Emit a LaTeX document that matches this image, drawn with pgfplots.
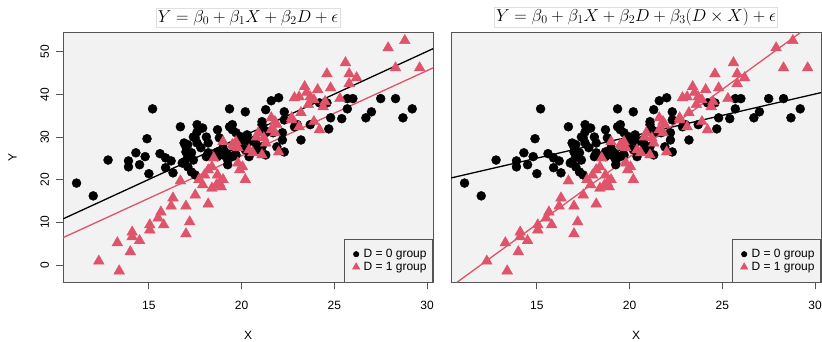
\documentclass[border=0pt]{standalone}
\usepackage{fontspec}
\setmainfont{Liberation Sans}
\usepackage{pgfplots}
\usepackage{pgfplotstable}
\pgfplotsset{compat=1.18}
\definecolor{rred}{HTML}{DF536B}
\definecolor{panelbg}{HTML}{F2F2F2}
\definecolor{frame}{HTML}{555555}

\pgfplotstableread{
x y
11.1 19.2
12.0 16.2
12.8 24.6
13.9 24.4
13.9 23.0
14.3 26.3
14.5 23.5
14.8 25.4
14.9 29.6
15.0 21.4
15.2 36.6
15.6 26.1
15.9 25.1
15.9 22.8
16.2 24.4
16.3 21.6
16.7 32.4
16.8 23.9
16.9 28.6
16.9 24.2
17.0 27.7
17.0 26.5
17.1 28.2
17.1 25.4
17.1 23.0
17.3 26.3
17.3 21.8
17.4 30.0
17.4 24.6
17.5 29.8
17.5 21.1
17.6 32.9
17.6 31.2
17.6 28.6
17.8 27.5
17.9 32.1
18.1 30.0
18.1 25.4
18.2 28.6
18.2 26.3
18.7 31.7
18.7 26.5
18.7 25.4
18.8 29.8
19.0 27.5
19.0 25.8
19.2 26.3
19.25 24.6
19.25 23.5
19.35 36.6
19.35 32.4
19.5 32.9
19.5 31.7
19.5 25.4
19.6 27.5
19.7 31.0
19.7 25.8
19.9 29.3
20.0 30.0
20.0 28.6
20.2 35.9
20.2 29.8
20.2 27.0
20.3 30.5
20.4 28.9
20.4 25.4
20.7 29.3
20.8 28.2
20.8 27.0
21.1 33.6
21.1 32.9
21.1 27.7
21.2 31.7
21.3 36.4
21.3 25.8
21.4 31.2
21.6 38.5
21.7 31.0
21.9 27.7
22.0 39.2
22.2 31.0
22.2 29.3
22.3 35.9
22.3 34.0
22.3 26.5
22.85 32.4
23.0 32.9
23.2 29.3
23.7 32.9
24.2 38.0
24.6 38.0
24.7 31.9
24.8 34.5
25.4 34.3
25.7 39.0
25.7 36.6
26.0 39.0
26.7 34.5
27.0 35.9
27.5 39.0
28.3 39.0
28.7 34.5
29.2 36.6
}\grpzero

\pgfplotstableread{
x y
12.3 0.9
13.4 -1.4
13.3 5.2
14.0 3.1
14.1 7.7
14.1 6.6
14.5 5.7
15.05 9.4
15.05 8.2
15.5 11.0
15.65 12.4
15.8 9.4
16.2 13.8
16.3 15.7
16.7 19.7
17.0 7.3
17.0 13.8
17.2 10.1
17.5 16.4
17.7 20.0
17.9 18.8
18.0 21.1
18.2 14.3
18.2 22.3
18.4 18.0
18.4 23.0
18.5 25.1
18.65 18.8
18.7 21.1
18.8 19.2
18.9 18.3
19.0 20.0
19.0 28.9
19.5 28.2
19.6 27.7
19.7 28.9
19.8 27.5
19.8 23.9
19.9 22.3
20.05 23.0
20.2 20.0
20.4 27.0
20.6 26.3
20.8 30.0
20.9 31.0
21.1 25.8
21.2 29.8
21.3 28.6
21.6 31.7
21.6 34.5
21.8 31.0
21.8 33.6
21.9 32.9
22.0 26.5
22.7 34.0
22.7 34.5
22.85 39.2
23.1 39.4
23.1 32.4
23.2 35.7
23.4 41.8
23.5 40.4
23.6 37.6
23.7 39.4
23.9 38.7
23.9 33.6
24.1 41.1
24.2 31.7
24.4 37.1
24.5 38.3
24.6 44.8
24.8 41.5
25.3 39.0
25.6 47.4
25.8 44.8
25.8 42.5
26.2 43.9
27.9 50.9
28.3 46.2
28.8 52.6
29.6 46.2
}\grpone

\pgfplotsset{
  rpanel/.style={
    scale only axis, width=370pt, height=249.6pt,
    xmin=10.37, xmax=30.32, ymin=-4.06, ymax=54.45,
    axis background/.style={fill=panelbg},
    axis line style={frame, line width=0.8pt},
    xtick={15,20,25,30}, ytick={0,10,20,30,40,50},
    tick align=outside, major tick length=7pt,
    tick style={frame, line width=0.8pt},
    xtick pos=bottom, ytick pos=left,
    ticklabel style={font=\fontsize{12}{14}\selectfont},
    /pgf/number format/assume math mode=true,
    xticklabel style={yshift=-8pt},
    yticklabel style={xshift=-3.5pt, rotate=90, anchor=south},
    every axis x label/.style={at={(axis description cs:0.5,0)}, anchor=center, yshift=-53pt, font=\fontsize{12}{14}\selectfont},
    every axis y label/.style={at={(axis description cs:0,0.5)}, xshift=-50.6pt, rotate=90, anchor=center, font=\fontsize{12}{14}\selectfont},
    title style={at={(axis description cs:0.5,1)}, anchor=south, yshift=-0.5pt, draw=black!12, inner sep=1.5pt, font=\fontsize{17.2}{19}\selectfont},
    legend style={at={(axis description cs:1,0)}, anchor=south east, draw=frame, line width=0.8pt, fill=panelbg,
      font=\fontsize{12}{13}\selectfont, inner xsep=4pt, inner ysep=8pt, row sep=-1pt, cells={anchor=west}},
    legend image code/.code={\path (0pt,-3pt) (12pt,3pt); \draw[##1] plot coordinates {(7pt,0pt)};},
    clip=true,
  },
  dotzero/.style={only marks, mark=*, mark size=4.5pt, black, mark options={draw=none, fill=black}},
  triaone/.style={only marks, mark=triangle*, mark size=6.2pt, rred, mark options={draw=none, fill=rred}},
}

\begin{document}
\begin{tikzpicture}[x=1pt,y=1pt]
\useasboundingbox (0,0) rectangle (822,341);
\begin{axis}[rpanel, at={(63pt,58.7pt)}, anchor=south west,
  xlabel={X}, ylabel={Y},
  title={$Y = \beta_0 + \beta_1 X + \beta_2 D + \epsilon$}]
\addplot[dotzero, forget plot] table[x=x,y=y] {\grpzero};
\addplot[triaone, forget plot] table[x=x,y=y] {\grpone};
\addplot[black, line width=1.3pt, forget plot] coordinates {(10.37,10.8) (30.32,50.7)};
\addplot[rred, line width=1.3pt, forget plot] coordinates {(10.37,6.4) (30.32,46.2)};
\addlegendimage{only marks, mark=*, mark size=2.6pt, black}
\addlegendentry{D = 0 group}
\addlegendimage{only marks, mark=triangle*, mark size=4pt, rred, mark options={draw=none}}
\addlegendentry{D = 1 group}
\end{axis}
\begin{axis}[rpanel, at={(451pt,58.7pt)}, anchor=south west,
  xlabel={X}, ytick=\empty,
  title={$Y = \beta_0 + \beta_1 X + \beta_2 D + \beta_3 (D \times X) + \epsilon$}]
\addplot[dotzero, forget plot] table[x=x,y=y] {\grpzero};
\addplot[triaone, forget plot] table[x=x,y=y] {\grpone};
\addplot[black, line width=1.3pt, forget plot] coordinates {(10.37,20.4) (30.32,40.4)};
\addplot[rred, line width=1.3pt, forget plot] coordinates {(10.69,-4.06) (29.2,54.45)};
\addlegendimage{only marks, mark=*, mark size=2.6pt, black}
\addlegendentry{D = 0 group}
\addlegendimage{only marks, mark=triangle*, mark size=4pt, rred, mark options={draw=none}}
\addlegendentry{D = 1 group}
\end{axis}
\end{tikzpicture}
\end{document}
